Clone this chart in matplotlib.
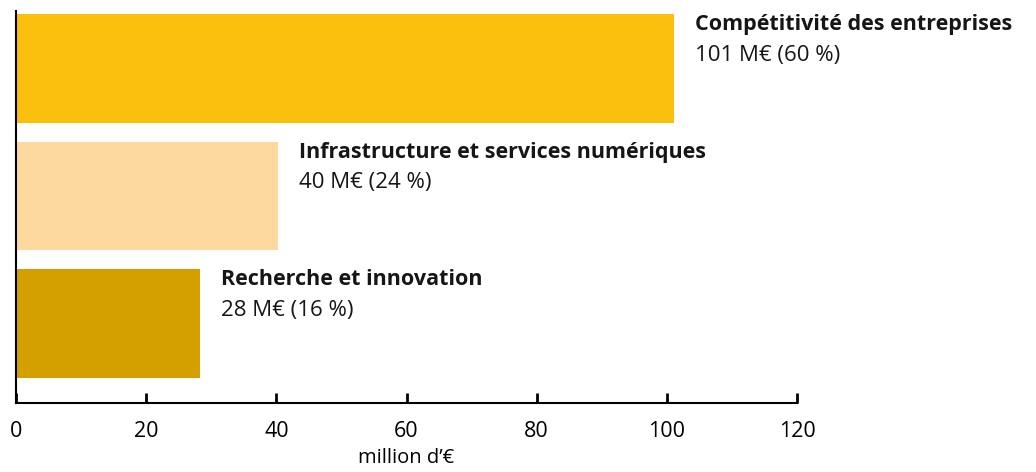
import matplotlib
matplotlib.use("Agg")
import matplotlib.pyplot as plt

categories = ["Compétitivité des entreprises",
              "Infrastructure et services numériques",
              "Recherche et innovation"]
values = [101.1, 40.3, 28.3]
value_labels = ["101 M€ (60 %)", "40 M€ (24 %)", "28 M€ (16 %)"]
colors = ["#FBBF0E", "#FDD9A0", "#D4A000"]
xticks = [0, 20, 40, 60, 80, 100, 120]

plt.rcParams['font.family'] = ['Open Sans', 'DejaVu Sans']

fig = plt.figure(figsize=(10.36, 4.72), dpi=100)
ax = fig.add_axes([16/1036, 1 - 403/472, (797-16)/1036, (403-11)/472])

ypos = [2, 1, 0]
ax.barh(ypos, values, height=0.85, color=colors)

for y, v, name, lab in zip(ypos, values, categories, value_labels):
    ax.annotate(name, (v, y + 0.425), xytext=(15, 0), textcoords="offset points",
                ha="left", va="top", fontsize=15.5, fontweight="bold", color="#161616")
    ax.annotate(lab, (v, y + 0.425), xytext=(15, -22), textcoords="offset points",
                ha="left", va="top", fontsize=16, color="#161616")

ax.set_xlim(0, 120)
ax.set_ylim(-0.621, 2.449)
ax.set_xticks(xticks)
ax.set_xticklabels([str(t) for t in xticks], fontsize=15.5)
ax.set_yticks([])
ax.tick_params(axis='x', direction='in', length=7, width=2, pad=13)
ax.set_xlabel("million d’€", fontsize=14.5, labelpad=4)
ax.spines['top'].set_visible(False)
ax.spines['right'].set_visible(False)
ax.spines['left'].set_linewidth(1.5)
ax.spines['bottom'].set_linewidth(1.5)

fig.savefig("out.png", dpi=100)
